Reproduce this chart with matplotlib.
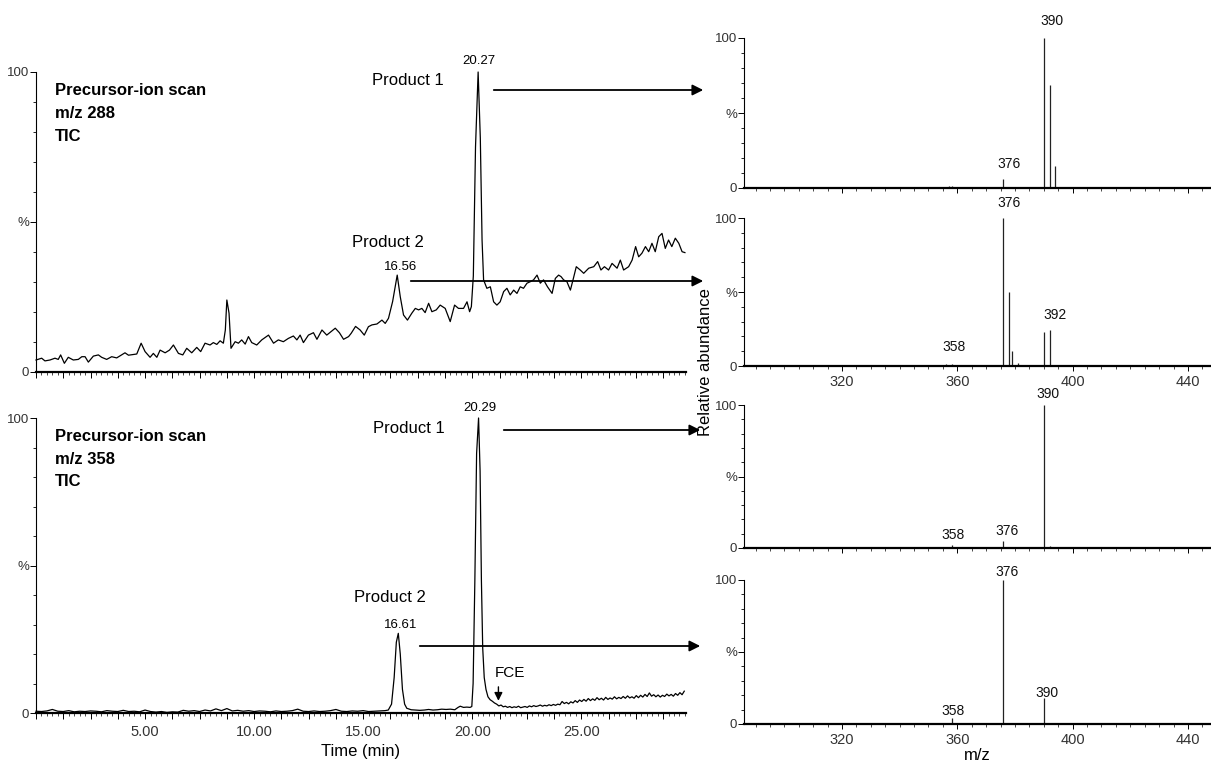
import matplotlib
matplotlib.use("Agg")
import matplotlib.pyplot as plt
from matplotlib.ticker import FixedLocator, MultipleLocator, FuncFormatter
from matplotlib.patches import FancyArrowPatch

plt.rcParams['font.family'] = ['Liberation Sans', 'DejaVu Sans']

# ---------------- data ----------------
# Chromatogram 1: precursor-ion scan m/z 288 (TIC)
t_288 = [0.00, 0.26, 0.41, 0.64, 0.87, 1.02, 1.13, 1.30, 1.48, 1.71, 1.94, 2.10, 2.25, 2.40, 2.63,
         2.86, 3.01, 3.24, 3.47, 3.70, 4.08, 4.24, 4.62, 4.82, 5.00, 5.23, 5.38, 5.54, 5.69, 5.92,
         6.12, 6.30, 6.53, 6.73, 6.91, 7.14, 7.37, 7.55, 7.75, 7.98, 8.13, 8.29, 8.44, 8.59, 8.68,
         8.75, 8.85, 8.94, 9.13, 9.28, 9.43, 9.59, 9.74, 9.89, 10.12, 10.35, 10.66, 10.89, 11.11,
         11.34, 11.57, 11.80, 11.96, 12.11, 12.26, 12.49, 12.72, 12.88, 13.11, 13.33, 13.72, 13.91,
         14.10, 14.33, 14.45, 14.65, 14.86, 15.05, 15.24, 15.40, 15.63, 15.86, 16.01, 16.16, 16.35,
         16.56, 16.70, 16.85, 17.03, 17.23, 17.39, 17.54, 17.69, 17.84, 18.00, 18.15, 18.35, 18.53,
         18.76, 18.99, 19.19, 19.37, 19.60, 19.76, 19.88, 19.96, 20.05, 20.15, 20.27, 20.37, 20.45,
         20.52, 20.67, 20.83, 20.98, 21.13, 21.28, 21.44, 21.59, 21.74, 21.90, 22.05, 22.20, 22.35,
         22.51, 22.66, 22.81, 22.97, 23.12, 23.27, 23.45, 23.66, 23.81, 23.96, 24.07, 24.19, 24.34,
         24.50, 24.62, 24.77, 24.95, 25.11, 25.34, 25.57, 25.75, 25.90, 26.06, 26.25, 26.41, 26.64,
         26.79, 26.94, 27.17, 27.33, 27.49, 27.63, 27.78, 27.94, 28.09, 28.24, 28.39, 28.55, 28.70,
         28.85, 29.00, 29.15, 29.31, 29.47, 29.62, 29.75]
i_288 = [4.0, 4.6, 3.7, 4.0, 4.6, 4.2, 5.7, 2.9, 4.9, 4.0, 4.2, 5.1, 5.1, 3.3, 5.3,
         5.7, 4.9, 4.2, 5.1, 4.7, 6.4, 5.6, 6.0, 9.6, 6.8, 4.9, 6.2, 4.9, 7.3, 6.4,
         7.3, 9.0, 6.2, 5.7, 7.9, 6.4, 8.2, 6.8, 9.6, 9.0, 9.8, 9.2, 10.4, 9.6, 14.0,
         24.0, 19.6, 7.9, 10.1, 9.6, 10.7, 9.3, 11.8, 9.8, 9.0, 10.7, 12.3, 9.6, 10.7,
         10.1, 11.2, 12.0, 10.7, 12.3, 9.8, 12.3, 13.1, 10.9, 14.0, 12.3, 14.6, 13.1,
         10.9, 11.8, 12.9, 15.2, 14.0, 12.3, 15.1, 15.7, 16.0, 17.3, 16.2, 17.9, 23.5,
         32.3, 25.1, 19.0, 17.3, 19.6, 21.2, 20.7, 21.2, 19.8, 22.9, 20.1, 20.7, 22.3,
         21.2, 16.8, 22.3, 21.2, 21.2, 23.4, 20.1, 21.8, 32.0, 75.0, 100.0, 78.0, 44.0,
         30.7, 27.9, 28.4, 23.4, 22.3, 23.4, 26.8, 27.9, 25.7, 27.3, 26.2, 28.4, 27.9,
         29.6, 30.1, 30.7, 32.3, 29.6, 30.7, 28.4, 26.2, 31.2, 32.3, 31.8, 30.7, 30.1,
         27.3, 30.7, 35.1, 34.0, 32.9, 34.6, 35.1, 36.8, 34.0, 35.1, 34.0, 36.2, 34.6,
         37.3, 34.0, 35.1, 37.3, 41.8, 38.4, 39.6, 41.8, 40.1, 42.9, 40.1, 45.1, 46.2,
         41.2, 44.0, 41.8, 44.6, 42.9, 40.1, 39.8]

# Chromatogram 2: precursor-ion scan m/z 358 (TIC)
t_358 = [0.00, 0.25, 0.50, 0.75, 1.00, 1.25, 1.50, 1.75, 2.00, 2.25, 2.50, 2.75, 3.00, 3.25, 3.50,
         3.75, 4.00, 4.25, 4.50, 4.75, 5.00, 5.25, 5.50, 5.75, 6.00, 6.25, 6.50, 6.75, 7.00, 7.25,
         7.50, 7.75, 8.00, 8.25, 8.50, 8.75, 9.00, 9.25, 9.50, 9.75, 10.00, 10.25, 10.50, 10.75,
         11.00, 11.25, 11.50, 11.75, 12.00, 12.25, 12.50, 12.75, 13.00, 13.25, 13.50, 13.75, 14.00,
         14.25, 14.50, 14.75, 15.00, 15.25, 15.50, 15.75, 16.00, 16.15, 16.30, 16.42, 16.52, 16.61,
         16.70, 16.80, 16.90, 17.00, 17.20, 17.40, 17.60, 17.80, 18.00, 18.20, 18.40, 18.60, 18.80,
         19.00, 19.20, 19.35, 19.45, 19.60, 19.75, 19.90, 19.98, 20.04, 20.12, 20.20, 20.29, 20.36,
         20.42, 20.48, 20.55, 20.63, 20.72, 20.82, 20.92, 21.02, 21.12, 21.22, 21.32, 21.42, 21.52,
         21.62, 21.72, 21.82, 21.92, 22.02, 22.12, 22.22, 22.32, 22.42, 22.52, 22.62, 22.72, 22.82,
         22.92, 23.02, 23.12, 23.22, 23.32, 23.42, 23.52, 23.62, 23.72, 23.82, 23.92, 24.02, 24.12,
         24.22, 24.32, 24.42, 24.52, 24.62, 24.72, 24.82, 24.92, 25.02, 25.12, 25.22, 25.32, 25.42,
         25.52, 25.62, 25.72, 25.82, 25.92, 26.02, 26.12, 26.22, 26.32, 26.42, 26.52, 26.62, 26.72,
         26.82, 26.92, 27.02, 27.12, 27.22, 27.32, 27.42, 27.52, 27.62, 27.72, 27.82, 27.92, 28.02,
         28.12, 28.22, 28.32, 28.42, 28.52, 28.62, 28.72, 28.82, 28.92, 29.02, 29.12, 29.22, 29.32,
         29.42, 29.52, 29.62, 29.72]
i_358 = [0.6, 0.5, 0.7, 1.2, 0.6, 0.5, 0.8, 0.4, 0.6, 0.5, 0.7, 0.6, 0.4, 0.8, 0.6,
         0.5, 0.9, 0.5, 0.6, 0.4, 1.0, 0.5, 0.3, 0.5, 0.2, 0.4, 0.3, 0.9, 0.6, 0.8,
         0.5, 1.0, 0.7, 1.4, 0.8, 1.5, 0.7, 0.9, 0.6, 0.8, 0.5, 0.7, 0.6, 0.4,
         0.7, 0.5, 0.6, 0.8, 1.3, 0.6, 0.5, 0.7, 0.5, 0.6, 0.8, 1.2, 0.6,
         0.5, 0.7, 0.6, 0.8, 0.5, 0.6, 0.7, 0.8, 1.0, 3.0, 12.0, 24.0, 27.0,
         20.0, 8.0, 3.0, 1.6, 1.1, 1.0, 0.9, 1.0, 1.2, 1.0, 1.1, 1.3, 1.2,
         1.3, 1.1, 1.9, 2.3, 1.9, 2.0, 1.9, 2.2, 10.0, 45.0, 88.0, 100.0, 82.0,
         45.0, 22.0, 12.0, 8.0, 5.5, 4.5, 4.0, 3.4, 3.0, 2.4, 2.7, 2.1, 2.3,
         1.9, 2.2, 1.8, 2.1, 1.9, 2.3, 1.8, 2.0, 2.2, 1.9, 2.4, 2.1, 2.5,
         2.2, 2.4, 2.7, 2.3, 2.6, 2.4, 2.8, 2.5, 2.9, 2.6, 3.0, 2.8, 3.9,
         3.2, 3.6, 3.1, 3.8, 3.4, 4.2, 3.6, 4.4, 3.9, 4.6, 4.0, 4.9, 4.2,
         4.8, 4.3, 5.2, 4.5, 5.0, 4.4, 5.3, 4.6, 5.1, 4.7, 5.5, 4.8, 5.3,
         4.9, 5.6, 5.0, 5.8, 5.1, 5.5, 5.0, 5.9, 5.2, 6.0, 5.4, 6.3, 5.6,
         6.8, 5.7, 6.2, 5.5, 6.1, 5.4, 6.0, 5.6, 6.4, 5.8, 6.3, 5.7, 6.6,
         6.0, 6.9, 6.2, 7.4]

# Product-ion spectra (m/z, relative abundance %)
mz_a = [357, 358, 376, 378, 390, 392, 394, 404, 405]
ab_a = [1.5, 1.5, 6, 1, 100, 69, 15, 1, 1]
mz_b = [356, 358, 376, 378, 379, 381, 390, 392]
ab_b = [1.5, 1.5, 100, 50, 10, 2, 23, 24]
mz_c = [358, 376, 390, 392]
ab_c = [2, 5, 100, 1.5]
mz_d = [358, 376, 390]
ab_d = [4, 100, 18]

chrom_xticks = [5, 10, 15, 20, 25]
ms_xticks = [320, 360, 400, 440]

# ---------------- figure ----------------
W, H = 1211, 766
fig = plt.figure(figsize=(W / 100, H / 100), dpi=100)


def fx(px):
    return px / W


def fy(py):
    return 1 - py / H


TICKC = '#333333'


def style_y(ax):
    ax.set_ylim(0, 100)
    ax.yaxis.set_major_locator(FixedLocator([0, 50, 100]))
    ax.yaxis.set_major_formatter(FuncFormatter(lambda v, p: {0: '0', 50: '%', 100: '100'}.get(int(round(v)), '')))
    ax.yaxis.set_minor_locator(MultipleLocator(10))
    ax.tick_params(axis='y', which='major', length=4, width=0.7, labelsize=9.5, labelcolor=TICKC, pad=1)
    ax.tick_params(axis='y', which='minor', length=2, width=0.6)
    for s in ('top', 'right'):
        ax.spines[s].set_visible(False)
    ax.spines['left'].set_linewidth(0.8)
    ax.spines['bottom'].set_linewidth(1.6)


# Left chromatograms
ax1 = fig.add_axes([fx(36), fy(372), fx(650), 300 / H])
ax2 = fig.add_axes([fx(36), fy(713), fx(650), 295 / H])
for ax, t, y in ((ax1, t_288, i_288), (ax2, t_358, i_358)):
    ax.plot(t, y, color='black', lw=0.9, clip_on=False)
    ax.set_xlim(0, 29.8)
    style_y(ax)
    ax.xaxis.set_major_locator(MultipleLocator(1.25))
    ax.xaxis.set_minor_locator(MultipleLocator(0.25))
    ax.tick_params(axis='x', which='major', length=4, width=0.7, labelsize=10.5, labelcolor=TICKC, pad=5)
    ax.tick_params(axis='x', which='minor', length=2, width=0.5)

ax1.xaxis.set_major_formatter(FuncFormatter(lambda v, p: ''))
ax2.xaxis.set_major_formatter(FuncFormatter(
    lambda v, p: f'{v:.2f}' if any(abs(v - c) < 1e-6 for c in chrom_xticks) else ''))

# Text in left panels
for ax, mz in ((ax1, '288'), (ax2, '358')):
    ax.text(0.85, 93.7, 'Precursor-ion scan', fontsize=12, fontweight='bold', ha='left', va='center')
    ax.text(0.85, 86.0, f'm/z {mz}', fontsize=12, fontweight='bold', ha='left', va='center')
    ax.text(0.85, 78.4, 'TIC', fontsize=12, fontweight='bold', ha='left', va='center')

ax1.text(17.06, 97.3, 'Product 1', fontsize=12, ha='center', va='center')
ax1.text(20.32, 103.7, '20.27', fontsize=9.5, ha='center', va='center')
ax1.text(16.15, 43.3, 'Product 2', fontsize=12, ha='center', va='center')
ax1.text(16.70, 35.0, '16.56', fontsize=9.5, ha='center', va='center')

ax2.text(17.10, 96.3, 'Product 1', fontsize=12, ha='center', va='center')
ax2.text(20.37, 103.4, '20.29', fontsize=9.5, ha='center', va='center')
ax2.text(16.24, 39.0, 'Product 2', fontsize=12, ha='center', va='center')
ax2.text(16.70, 29.8, '16.61', fontsize=9.5, ha='center', va='center')
ax2.text(21.75, 13.6, 'FCE', fontsize=11, ha='center', va='center')
ax2.annotate('', xy=(21.2, 3.2), xytext=(21.2, 9.8),
             arrowprops=dict(arrowstyle='-|>', color='black', lw=1.0, mutation_scale=12))
ax2.set_xlabel('Time (min)', fontsize=12, labelpad=3)

# Right spectra
spec_boxes = [(38, 188), (218, 366), (405, 548), (580, 724)]
spectra = [(mz_a, ab_a), (mz_b, ab_b), (mz_c, ab_c), (mz_d, ab_d)]
axes_r = []
for k, ((top, bot), (mz, ab)) in enumerate(zip(spec_boxes, spectra)):
    ax = fig.add_axes([fx(744), fy(bot), fx(467), (bot - top) / H])
    ax.vlines(mz, 0, ab, color='#222222', lw=0.9)
    ax.set_xlim(286, 448)
    style_y(ax)
    ax.xaxis.set_major_locator(FixedLocator(ms_xticks))
    ax.xaxis.set_minor_locator(MultipleLocator(5))
    ax.tick_params(axis='x', which='major', length=3.5, width=0.7, labelsize=10.5, labelcolor=TICKC, pad=3)
    ax.tick_params(axis='x', which='minor', length=2, width=0.5)
    if k in (0, 2):
        ax.set_xticklabels([])
    axes_r.append(ax)

lab_kw = dict(fontsize=10, ha='center', va='center', color='#111111')
axes_r[0].text(393.0, 111.5, '390', **lab_kw)
axes_r[0].text(377.8, 16.0, '376', **lab_kw)
axes_r[1].text(377.8, 110.0, '376', **lab_kw)
axes_r[1].text(393.9, 34.5, '392', **lab_kw)
axes_r[1].text(358.9, 12.8, '358', **lab_kw)
axes_r[2].text(391.4, 107.7, '390', **lab_kw)
axes_r[2].text(358.6, 9.0, '358', **lab_kw)
axes_r[2].text(377.1, 11.9, '376', **lab_kw)
axes_r[3].text(377.1, 105.5, '376', **lab_kw)
axes_r[3].text(391.1, 21.5, '390', **lab_kw)
axes_r[3].text(358.6, 9.0, '358', **lab_kw)
axes_r[3].set_xlabel('m/z', fontsize=12, labelpad=1)

fig.text(fx(706), fy(362), 'Relative abundance', rotation=90, fontsize=12, ha='center', va='center')

# Arrows linking peaks to spectra
for (x0, x1, y) in [(491, 706, 90), (408, 706, 281), (501, 703, 430), (417, 703, 646)]:
    arr = FancyArrowPatch((fx(x0), fy(y)), (fx(x1), fy(y)), transform=fig.transFigure,
                          arrowstyle='-|>', mutation_scale=16, color='black', lw=1.3)
    fig.add_artist(arr)

fig.savefig('out.png', dpi=100)
